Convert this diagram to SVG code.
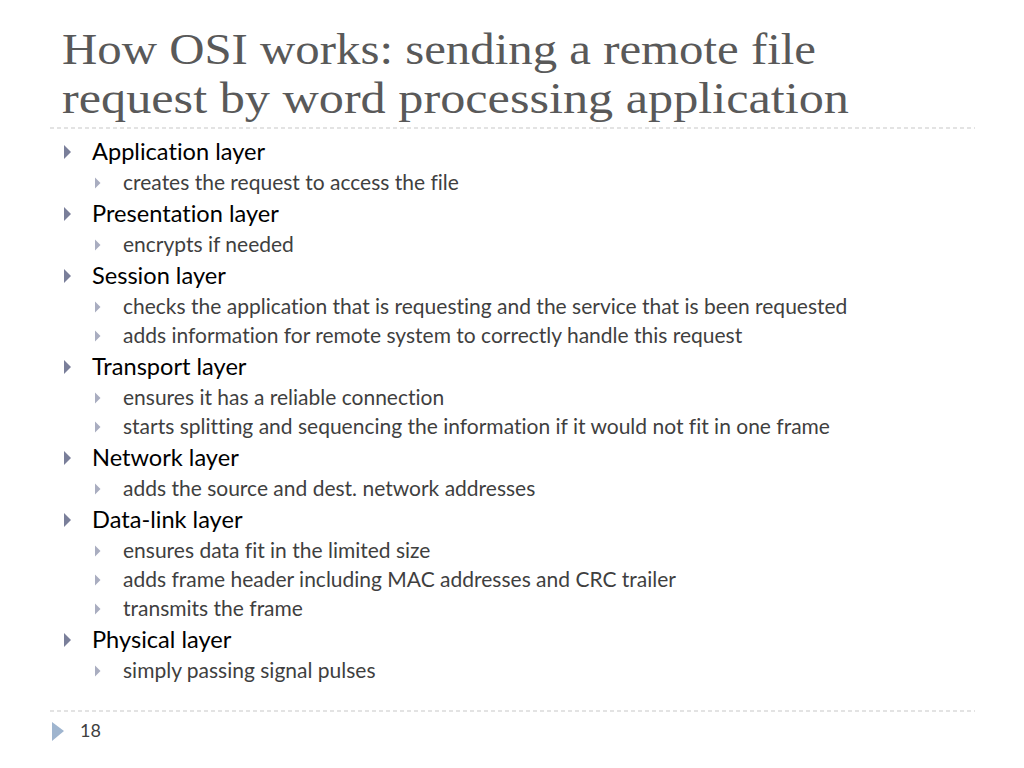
<svg xmlns="http://www.w3.org/2000/svg" width="1024" height="768" viewBox="0 0 1024 768">
<style>
.t{font-family:"Liberation Serif",serif;font-size:44px;fill:#595959}
.l1{font-family:Lato,"Open Sans",sans-serif;font-size:23.6px;fill:#000;font-variant-ligatures:none}
.l2{font-family:Lato,"Open Sans",sans-serif;font-size:21px;fill:#3f3f3f;font-variant-ligatures:none}
.d{stroke:#c8c8c8;stroke-width:1.2;stroke-dasharray:4 3}
.b1{fill:#7a7f9a}
.b2{fill:#a9adc0}
</style>
<defs>
<path id="b1" d="M0,-7 L7,0 L0,7Z"/>
<path id="b2" d="M0,-5.5 L5.5,0 L0,5.5Z"/>
</defs>
<rect width="1024" height="768" fill="#fff"/>
<text class="t" x="62" y="64" textLength="754" lengthAdjust="spacingAndGlyphs">How OSI works: sending a remote file</text>
<text class="t" x="62" y="113" textLength="787" lengthAdjust="spacingAndGlyphs">request by word processing application</text>
<line class="d" x1="50" y1="128" x2="975" y2="128"/>
<line class="d" x1="50" y1="711" x2="975" y2="711"/>
<g class="b1">
<use href="#b1" x="64" y="152"/><use href="#b1" x="64" y="214"/><use href="#b1" x="64" y="276"/>
<use href="#b1" x="64" y="367"/><use href="#b1" x="64" y="458"/><use href="#b1" x="64" y="520"/><use href="#b1" x="64" y="640"/>
</g>
<g class="b2">
<use href="#b2" x="95" y="183"/><use href="#b2" x="95" y="245"/><use href="#b2" x="95" y="307"/><use href="#b2" x="95" y="336"/>
<use href="#b2" x="95" y="398"/><use href="#b2" x="95" y="427"/><use href="#b2" x="95" y="489"/><use href="#b2" x="95" y="551"/>
<use href="#b2" x="95" y="580"/><use href="#b2" x="95" y="609"/><use href="#b2" x="95" y="671"/>
</g>
<text class="l1" x="92" y="160">Application layer</text>
<text class="l2" x="123" y="190">creates the request to access the file</text>
<text class="l1" x="92" y="222">Presentation layer</text>
<text class="l2" x="123" y="252">encrypts if needed</text>
<text class="l1" x="92" y="284">Session layer</text>
<text class="l2" x="123" y="314">checks the application that is requesting and the service that is been requested</text>
<text class="l2" x="123" y="343">adds information for remote system to correctly handle this request</text>
<text class="l1" x="92" y="375">Transport layer</text>
<text class="l2" x="123" y="405">ensures it has a reliable connection</text>
<text class="l2" x="123" y="434">starts splitting and sequencing the information if it would not fit in one frame</text>
<text class="l1" x="92" y="466">Network layer</text>
<text class="l2" x="123" y="496">adds the source and dest. network addresses</text>
<text class="l1" x="92" y="528">Data-link layer</text>
<text class="l2" x="123" y="558">ensures data fit in the limited size</text>
<text class="l2" x="123" y="587">adds frame header including MAC addresses and CRC trailer</text>
<text class="l2" x="123" y="616">transmits the frame</text>
<text class="l1" x="92" y="648">Physical layer</text>
<text class="l2" x="123" y="678">simply passing signal pulses</text>
<path d="M52,722 L64,731 L52,741Z" fill="#9fb5cf"/>
<text x="80" y="737" style="font-family:Lato,'Open Sans',sans-serif;font-size:18px;fill:#404040">18</text>
</svg>
